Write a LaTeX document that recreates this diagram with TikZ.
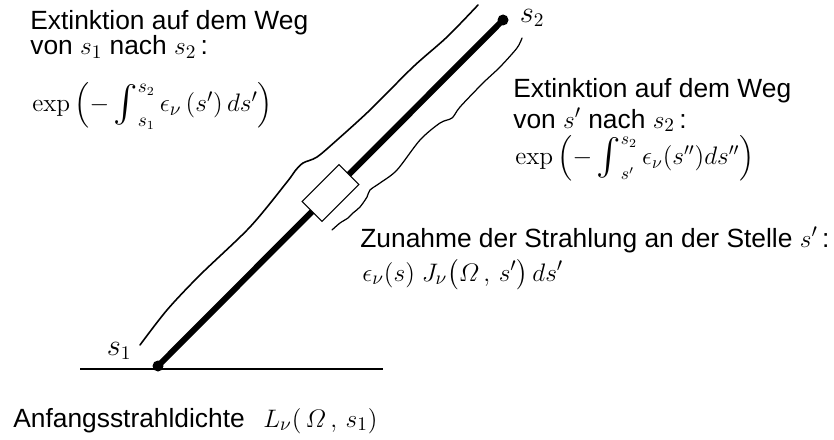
\documentclass[tikz,border=0pt]{standalone}
\usepackage{amsmath}
\usepackage{graphicx}
\usepackage[no-math]{fontspec}
\setmainfont{Liberation Sans}
\usetikzlibrary{calc}
\newcommand{\midint}{\mathop{\vcenter{\hbox{\scalebox{1.45}{$\intop$}}}}\nolimits}
\tikzset{
  txt/.style={anchor=base west, inner sep=0pt, font=\fontsize{15}{17}\selectfont},
  formula/.style={anchor=west, inner sep=0pt, font=\fontsize{15}{17}\selectfont},
  brace/.style={line width=0.9pt, line cap=round},
}
\begin{document}
\begin{tikzpicture}[x=0.02cm, y=-0.02cm]
        \useasboundingbox (0,0) rectangle (834,439);

        % Ground and ray
        \coordinate (s1) at (158,366);
        \coordinate (s2) at (503,20);
        \draw[line width=0.8pt] (80,369) -- (383,369);
        \draw[line width=3.4pt, line cap=round] (s1) -- (s2);
        \fill (s1) circle (0.11cm);
        \fill (s2) circle (0.11cm);

        % Volume element
        \node[draw, fill=white, rotate=45, line width=0.6pt, inner sep=0pt,
              minimum width=1.04cm, minimum height=0.56cm] (cell) at ($(s1)!0.5!(s2)$) {};

        % End labels
        \node[inner sep=0pt, font=\fontsize{16}{18}\selectfont] (s1lab) at (119,351) {$s_1$};
        \node[inner sep=0pt, font=\fontsize{16}{18}\selectfont] (s2lab) at (532,18) {$s_2$};

        % Brace from s1 to s2
        \draw[brace] plot[smooth] coordinates {(140,345) (167,310) (200,275) (250,227) (287,182)
            (295,171) (303,163) (317,157) (337,140) (370,110) (413,67) (447,37) (478,5)};

        % Brace from s' to s2
        \draw[brace, line width=0.7pt] plot[smooth] coordinates {(522,38) (517,48) (500,67) (483,83)
            (460,107) (452,118) (440,123) (420,140) (397,170) (380,183) (370,190) (367,197)
            (360,207) (353,213) (348,218) (340,223) (332,230)};

        % Extinction s1 -> s2
        \node[txt] (ext12a) at (30,30) {Extinktion auf dem Weg};
        \node[txt] (ext12b) at (30,55) {von $s_1$ nach $s_2$\,:};
        \node[formula] (ext12c) at (32,106) {$\exp\left(-\midint_{s_1}^{s_2}\epsilon_\nu\,(s')\,ds'\right)$};

        % Extinction s' -> s2
        \node[txt] (ext2a) at (513,97) {Extinktion auf dem Weg};
        \node[txt] (ext2b) at (513,128) {von $s'$ nach $s_2$\,:};
        \node[formula, font=\fontsize{14}{16}\selectfont] (ext2c) at (515,158)
            {$\exp\left(-\midint_{s'}^{s_2}\epsilon_\nu(s'')ds''\right)$};

        % Gain at s'
        \node[txt] (gaina) at (360,247) {Zunahme der Strahlung an der Stelle $s'$\,:};
        \node[txt] (gainb) at (362,281)
            {$\epsilon_\nu(s)\;J_\nu\bigl(\varOmega\,,\,s'\bigr)\,ds'$};

        % Initial radiance
        \node[txt] (start) at (13,427) {Anfangsstrahldichte};
        \node[txt] (startval) at (263,427) {$L_\nu(\,\varOmega\,,\,s_1)$};
\end{tikzpicture}
\end{document}
